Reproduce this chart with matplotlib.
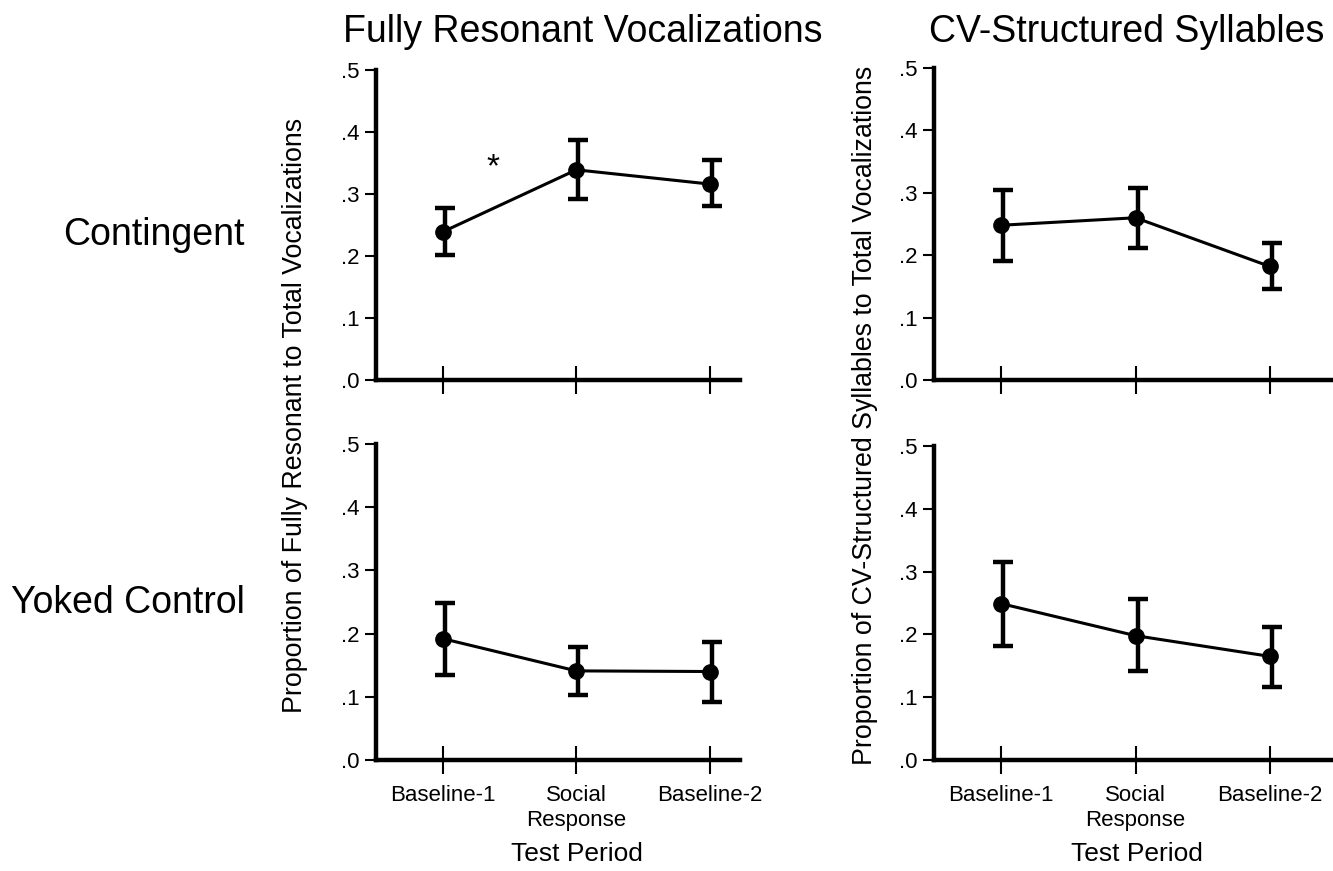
import numpy as np
import matplotlib
matplotlib.use('Agg')
from matplotlib import pyplot as plt

plt.rcParams['font.family'] = ['Liberation Sans', 'DejaVu Sans']

periods = ['Baseline-1', 'Social\nResponse', 'Baseline-2']

# mean, upper and lower end of each error bar
fr_cont = [0.239, 0.339, 0.316]
fr_cont_hi = [0.278, 0.387, 0.355]
fr_cont_lo = [0.202, 0.292, 0.280]

cv_cont = [0.248, 0.260, 0.182]
cv_cont_hi = [0.305, 0.307, 0.219]
cv_cont_lo = [0.190, 0.211, 0.146]

fr_yoked = [0.192, 0.141, 0.140]
fr_yoked_hi = [0.249, 0.179, 0.186]
fr_yoked_lo = [0.135, 0.103, 0.091]

cv_yoked = [0.249, 0.198, 0.165]
cv_yoked_hi = [0.315, 0.257, 0.212]
cv_yoked_lo = [0.181, 0.142, 0.117]

fig = plt.figure(figsize=(13.33, 8.71), dpi=100)
W, H = 1333, 871

def make_ax(x0, x1, ytop, ybot):
    return fig.add_axes([x0 / W, 1 - ybot / H, (x1 - x0) / W, (ybot - ytop) / H])

axes = [
    (make_ax(376, 740, 70, 380), fr_cont, fr_cont_lo, fr_cont_hi, 2.225, 0.552),
    (make_ax(934, 1333, 68, 380), cv_cont, cv_cont_lo, cv_cont_hi, 2.47, 0.509),
    (make_ax(376, 740, 444, 760), fr_yoked, fr_yoked_lo, fr_yoked_hi, 2.225, 0.552),
    (make_ax(934, 1333, 446, 760), cv_yoked, cv_yoked_lo, cv_yoked_hi, 2.47, 0.509),
]

x = np.arange(3)
for i, (ax, m, lo, hi, xr, lx) in enumerate(axes):
    m = np.array(m); lo = np.array(lo); hi = np.array(hi)
    ax.plot(x, m, color='black', lw=2.2, zorder=3)
    ax.errorbar(x + 0.015, m, yerr=[m - lo, hi - m], fmt='none', ecolor='black',
                elinewidth=3.2, capsize=7, capthick=3.2, zorder=2)
    ax.plot(x, m, 'o', color='black', ms=11, zorder=4)
    ax.set_xlim(-0.5, xr)
    ax.set_ylim(0, 0.5)
    ax.set_yticks([0, 0.1, 0.2, 0.3, 0.4, 0.5])
    ax.set_yticklabels(['.0', '.1', '.2', '.3', '.4', '.5'], fontsize=16)
    ax.set_xticks(x)
    if i >= 2:
        ax.set_xticklabels(periods, fontsize=16, linespacing=1.25)
        ax.set_xlabel('Test Period', fontsize=19, labelpad=8)
        ax.xaxis.label.set_x(lx)
    else:
        ax.set_xticklabels([])
    for s in ['top', 'right']:
        ax.spines[s].set_visible(False)
    for s in ['left', 'bottom']:
        ax.spines[s].set_linewidth(3.2)
    ax.tick_params(axis='y', direction='out', length=8, width=1.5, pad=4)
    ax.tick_params(axis='x', direction='inout', length=20, width=1.5, pad=8)
    ax.patch.set_alpha(0)

axes[0][0].text(0.375, 0.343, '*', fontsize=24, ha='center', va='center')

fig.text(583 / W, 1 - 32 / H, 'Fully Resonant Vocalizations', fontsize=27, ha='center', va='center')
fig.text(1127 / W, 1 - 32 / H, 'CV-Structured Syllables', fontsize=27, ha='center', va='center')
fig.text(245 / W, 1 - 235 / H, 'Contingent', fontsize=27, ha='right', va='center')
fig.text(245 / W, 1 - 603 / H, 'Yoked Control', fontsize=27, ha='right', va='center')
fig.text(295 / W, 1 - 415 / H, 'Proportion of Fully Resonant to Total Vocalizations',
         fontsize=19.3, rotation=90, ha='center', va='center')
fig.text(865 / W, 1 - 415 / H, 'Proportion of CV-Structured Syllables to Total Vocalizations',
         fontsize=19.3, rotation=90, ha='center', va='center')

fig.savefig('out.png', dpi=100)
